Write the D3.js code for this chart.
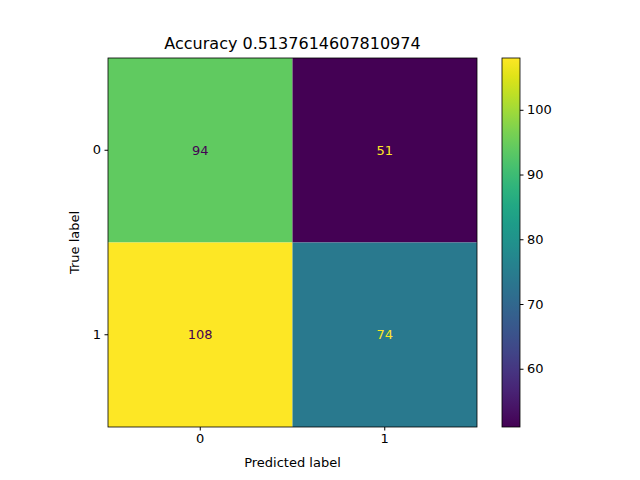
<!DOCTYPE html>
<html>
<head>
<meta charset="utf-8">
<script src="https://cdn.jsdelivr.net/npm/d3@7"></script>
<style>
body { margin: 0; background: #fff; }
text { font-family: "DejaVu Sans", sans-serif; }
</style>
</head>
<body>
<svg id="chart" width="640" height="480"></svg>
<script>
var labels = ["0", "1"];
var matrix = [[94, 51], [108, 74]];
var cbTicks = [60, 70, 80, 90, 100];
var title = "Accuracy 0.5137614607810974";

var svg = d3.select("#chart");
var mLeft = 108, mTop = 58, size = 369;
var vmin = 51, vmax = 108;
var color = d3.scaleSequential(d3.interpolateViridis).domain([vmin, vmax]);

var x = d3.scaleBand().domain(labels).range([mLeft, mLeft + size]);
var y = d3.scaleBand().domain(labels).range([mTop, mTop + size]);

var cells = [];
matrix.forEach(function (row, i) {
  row.forEach(function (v, j) { cells.push({ r: labels[i], c: labels[j], v: v }); });
});

svg.selectAll("rect.cell").data(cells).enter().append("rect")
  .attr("x", function (d) { return x(d.c); })
  .attr("y", function (d) { return y(d.r); })
  .attr("width", x.bandwidth()).attr("height", y.bandwidth())
  .attr("fill", function (d) { return color(d.v); });

var thresh = (vmin + vmax) / 2;
svg.selectAll("text.val").data(cells).enter().append("text")
  .attr("x", function (d) { return x(d.c) + x.bandwidth() / 2; })
  .attr("y", function (d) { return y(d.r) + y.bandwidth() / 2; })
  .attr("text-anchor", "middle").attr("dominant-baseline", "central")
  .style("font-size", "13px")
  .attr("fill", function (d) { return d.v < thresh ? color(vmax) : color(vmin); })
  .text(function (d) { return d.v; });

svg.append("rect").attr("x", mLeft).attr("y", mTop).attr("width", size).attr("height", size)
  .attr("fill", "none").attr("stroke", "#000").attr("stroke-width", 0.8);

var xAxis = svg.append("g").attr("transform", "translate(0," + (mTop + size) + ")")
  .call(d3.axisBottom(x).tickSize(3.5).tickPadding(3.5));
var yAxis = svg.append("g").attr("transform", "translate(" + mLeft + ",0)")
  .call(d3.axisLeft(y).tickSize(3.5).tickPadding(3.5));
[xAxis, yAxis].forEach(function (g) {
  g.select(".domain").remove();
  g.selectAll("text").style("font-size", "13px").style("font-family", "DejaVu Sans");
});

svg.append("text").attr("x", mLeft + size / 2).attr("y", 467).attr("text-anchor", "middle")
  .style("font-size", "13px").text("Predicted label");
svg.append("text").attr("transform", "translate(79," + (mTop + size / 2) + ") rotate(-90)")
  .attr("text-anchor", "middle").style("font-size", "13px").text("True label");
svg.append("text").attr("x", mLeft + size / 2).attr("y", 49).attr("text-anchor", "middle")
  .style("font-size", "16px").text(title);

// colorbar
var cbX = 502, cbW = 18;
var cy = d3.scaleLinear().domain([vmin, vmax]).range([mTop + size, mTop]);
var defs = svg.append("defs");
var grad = defs.append("linearGradient").attr("id", "vir").attr("x1", 0).attr("y1", 1).attr("x2", 0).attr("y2", 0);
d3.range(0, 1.0001, 0.05).forEach(function (t) {
  grad.append("stop").attr("offset", t).attr("stop-color", d3.interpolateViridis(t));
});
svg.append("rect").attr("x", cbX).attr("y", mTop).attr("width", cbW).attr("height", size)
  .attr("fill", "url(#vir)").attr("stroke", "#000").attr("stroke-width", 0.8);
var cbAxis = svg.append("g").attr("transform", "translate(" + (cbX + cbW) + ",0)")
  .call(d3.axisRight(cy).tickValues(cbTicks).tickSize(3.5).tickPadding(3.5));
cbAxis.select(".domain").remove();
cbAxis.selectAll("text").style("font-size", "13px").style("font-family", "DejaVu Sans");
</script>
</body>
</html>
